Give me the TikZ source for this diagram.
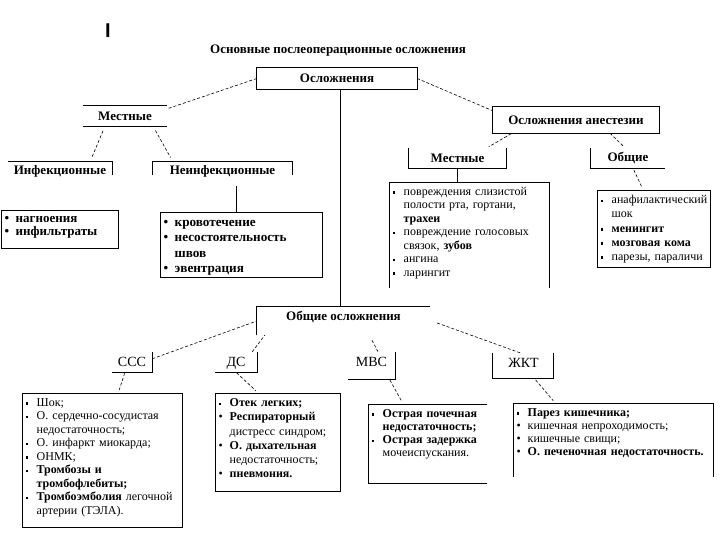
\documentclass[tikz,border=0pt]{standalone}
\usepackage{fontspec}
\setmainfont{Liberation Serif}
\setsansfont{Liberation Sans}
\usetikzlibrary{calc}

\newcommand{\hdfont}{\bfseries\fontsize{13}{15}\selectfont}
\newcommand{\sbfont}{\fontsize{14}{16}\selectfont}
\newcommand{\lsfont}{\fontsize{12}{13.5}\selectfont}
\newlength{\bulw}
\setlength{\bulw}{11pt}
\newcommand{\sqb}{\makebox[\bulw][l]{\rule[1.5pt]{2.6pt}{2.6pt}}}
\newcommand{\rdb}{\makebox[\bulw][l]{\textbullet}}
\newcommand{\cnt}{\hspace*{\bulw}}

\tikzset{
  hd/.style={font=\hdfont, inner sep=0pt},
  sub/.style={font=\sbfont, inner sep=0pt, text height=12pt, text depth=3pt},
  lst/.style={font=\lsfont, anchor=north west, inner xsep=3.5pt, inner ysep=3.5pt, align=left},
  frame/.style={line width=0.8pt},
  link/.style={dash pattern=on 3pt off 2pt, line width=0.6pt},
}

\begin{document}
\begin{tikzpicture}[x=1pt, y=-1pt]
  \useasboundingbox (0,0) rectangle (720,540);

  \node[font=\sffamily\bfseries\fontsize{20}{20}\selectfont, inner sep=0pt] (mark) at (108,31) {I};
  \node[hd] (title) at (338,51) {Основные послеоперационные осложнения};

  % top
  \node[hd, minimum width=160, minimum height=21] (osl) at (337,78.5) {Осложнения};
  \draw[frame] (osl.north west) rectangle (osl.south east);

  % local complications
  \node[hd, minimum width=84, minimum height=20] (mestL) at (125,116) {Местные};
  \draw[frame] (mestL.north west) -- (mestL.north east);
  \draw[frame] (mestL.south west) -- (mestL.south east);
  \node[hd, minimum width=104, minimum height=18] (infek) at (60,171) {Инфекционные};
  \draw[frame] (infek.north west) -- (infek.north east) -- ++(0,13);
  \node[hd, minimum width=139, minimum height=18] (neinf) at (222.5,171) {Неинфекционные};
  \draw[frame] ($(neinf.north west)+(0,13)$) -- (neinf.north west) -- (neinf.north east) -- ++(0,13);

  \node[lst, font={\bfseries\fontsize{13}{13}\selectfont}, text width=110] (lInf) at (1,210)
    {\strut\rdb нагноения\\ \rdb инфильтраты};
  \draw[frame] (lInf.north west) rectangle ++(117,38);
  \node[lst, font={\bfseries\fontsize{13.2}{15.3}\selectfont}, text width=155] (lNeinf) at (160,212)
    {\strut\rdb кровотечение\\ \rdb несостоятельность\\ \cnt швов\\ \rdb эвентрация};
  \draw[frame] (lNeinf.north west) rectangle ++(162,65);

  % anaesthesia
  \node[hd, minimum width=166, minimum height=26] (anest) at (576,120) {Осложнения анестезии};
  \draw[frame] (anest.north west) rectangle (anest.south east);
  \node[hd, minimum width=97, minimum height=20] (mestR) at (457.5,158) {Местные};
  \draw[frame] (mestR.north west) -- (mestR.south west) -- (mestR.south east) -- (mestR.north east);
  \node[hd, minimum width=74, minimum height=20] (obshR) at (628,158) {Общие};
  \draw[frame] (obshR.north west) -- (obshR.south west) -- (obshR.south east);

  \node[lst, text width=153] (lAnM) at (389,182)
    {\strut\sqb повреждения слизистой\\ \cnt полости рта, гортани,\\ \cnt \textbf{трахеи}\\
     \sqb повреждение голосовых\\ \cnt связок, \textbf{зубов}\\ \sqb ангина\\ \sqb ларингит};
  \draw[frame] ($(lAnM.north west)+(0,106)$) -- (lAnM.north west) -- ++(160,0) -- ++(0,106);
  \node[lst, font={\fontsize{12}{14.2}\selectfont}, text width=106] (lAnO) at (597,190)
    {\strut\sqb анафилактический\\ \cnt шок\\ \sqb \textbf{менингит}\\
     \sqb \textbf{мозговая кома}\\ \sqb парезы, параличи};
  \draw[frame] (lAnO.north west) rectangle ++(113,77);

  % general complications
  \node[hd, minimum width=173, minimum height=20] (obshO) at (343.5,317) {Общие осложнения};
  \draw[frame] ($(obshO.south west)+(0,8)$) -- (obshO.north west) -- (obshO.north east);
  \node[sub, minimum width=40, minimum height=20] (sss) at (132,362) {ССС};
  \draw[frame] (sss.north east) -- (sss.south east) -- (sss.south west);
  \node[sub, minimum width=42, minimum height=20] (ds) at (236,362) {ДС};
  \draw[frame] (ds.north east) -- (ds.south east) -- (ds.south west);
  \node[sub, minimum width=47, minimum height=20] (mvs) at (371.5,362) {МВС};
  \draw[frame] (mvs.north east) -- ++(0,28) -- ++(-47,0);
  \node[sub, minimum width=61, minimum height=20] (gkt) at (523.5,363) {ЖКТ};
  \draw[frame] (gkt.north west) -- ++(0,26) -- ++(61,0) -- ++(0,-26);

  \node[lst, text width=153] (lSSS) at (22,393)
    {\strut\sqb Шок;\\ \sqb О. сердечно-сосудистая\\ \cnt недостаточность;\\ \sqb О. инфаркт миокарда;\\
     \sqb ОНМК;\\ \sqb \textbf{Тромбозы и}\\ \cnt \textbf{тромбофлебиты;}\\
     \sqb \textbf{Тромбоэмболия} легочной\\ \cnt артерии (ТЭЛА).};
  \draw[frame] (lSSS.north west) rectangle ++(160,134);
  \node[lst, font={\fontsize{12}{14.2}\selectfont}, text width=118] (lDS) at (215,393)
    {\strut\sqb \textbf{Отек легких;}\\ \rdb \textbf{Респираторный}\\ \cnt дистресс синдром;\\
     \rdb \textbf{О. дыхательная}\\ \cnt недостаточность;\\ \rdb \textbf{пневмония.}};
  \draw[frame] (lDS.north west) rectangle ++(125,98);
  \node[lst, font={\fontsize{12}{13.3}\selectfont}, text width=112] (lMVS) at (368,404)
    {\strut\sqb \textbf{Острая почечная}\\ \cnt \textbf{недостаточность;}\\ \sqb \textbf{Острая задержка}\\
     \cnt мочеиспускания.};
  \draw[frame] ($(lMVS.north west)+(119,0)$) -- (lMVS.north west) -- ++(0,79) -- ++(119,0);
  \node[lst, font={\fontsize{12}{13.3}\selectfont}, text width=193] (lGKT) at (513,403)
    {\strut\sqb \textbf{Парез кишечника;}\\ \rdb кишечная непроходимость;\\ \rdb кишечные свищи;\\
     \rdb \textbf{О. печеночная недостаточность.}};
  \draw[frame] ($(lGKT.north west)+(0,74)$) -- (lGKT.north west) -- ++(200,0) -- ++(0,74);

  % connectors
  \draw[frame] ([xshift=3pt]osl.south) -- ([xshift=3pt]osl.south |- obshO.north);
  \draw[link] (osl.west) -- ($(mestL.north east)+(0,3)$);
  \draw[link, shorten <=5pt, shorten >=4pt] ($(mestL.south)+(-20,0)$) -- ($(infek.north)+(30,0)$);
  \draw[link, shorten <=5pt, shorten >=5pt] ($(mestL.south)+(28,0)$) -- ($(neinf.north)+(-49.5,0)$);
  \draw[frame, shorten <=6pt] ([xshift=13.5pt]neinf.south) -- ([xshift=13.5pt]neinf.south |- lNeinf.north);
  \draw[link] (osl.east) -- ($(anest.north west)+(0,4)$);
  \draw[link, shorten <=1pt, shorten >=2pt] ($(anest.south)+(-64,0)$) -- ($(mestR.north)+(29.5,0)$);
  \draw[link, shorten >=1pt] ($(anest.south)+(34,0)$) -- ($(obshR.north)+(-3,0)$);
  \draw[frame] (mestR.south) -- (mestR.south |- lAnM.north);
  \draw[link, shorten <=2pt, shorten >=3pt] ($(obshR.south)+(5,0)$) -- ($(lAnO.north)+(-10.5,0)$);
  \draw[link] ($(sss.north east)+(0,7)$) -- ($(obshO.west)+(0,4)$);
  \draw[link] ($(ds.north east)+(-5,0)$) -- ($(obshO.south west)+(8,8)$);
  \draw[link] ($(obshO.south)+(28.5,13)$) -- ($(mvs.north)+(6.5,0)$);
  \draw[link] ($(obshO.east)+(7,6)$) -- ($(gkt.north)+(-3.5,0)$);
  \draw[link, shorten <=1pt, shorten >=3pt] ($(sss.south)+(-7,0)$) -- ($(lSSS.north)+(16,0)$);
  \draw[link, shorten <=1pt, shorten >=3pt] (ds.south) -- ($(lDS.north)+(-19.5,0)$);
  \draw[link, shorten >=4pt] ($(mvs.south)+(18.5,8)$) -- ($(lMVS.north)+(-24.5,0)$);
  \draw[link, shorten <=1pt, shorten >=3pt] ($(gkt.south)+(11.5,6)$) -- ($(lGKT.north)+(-58,0)$);
\end{tikzpicture}
\end{document}
